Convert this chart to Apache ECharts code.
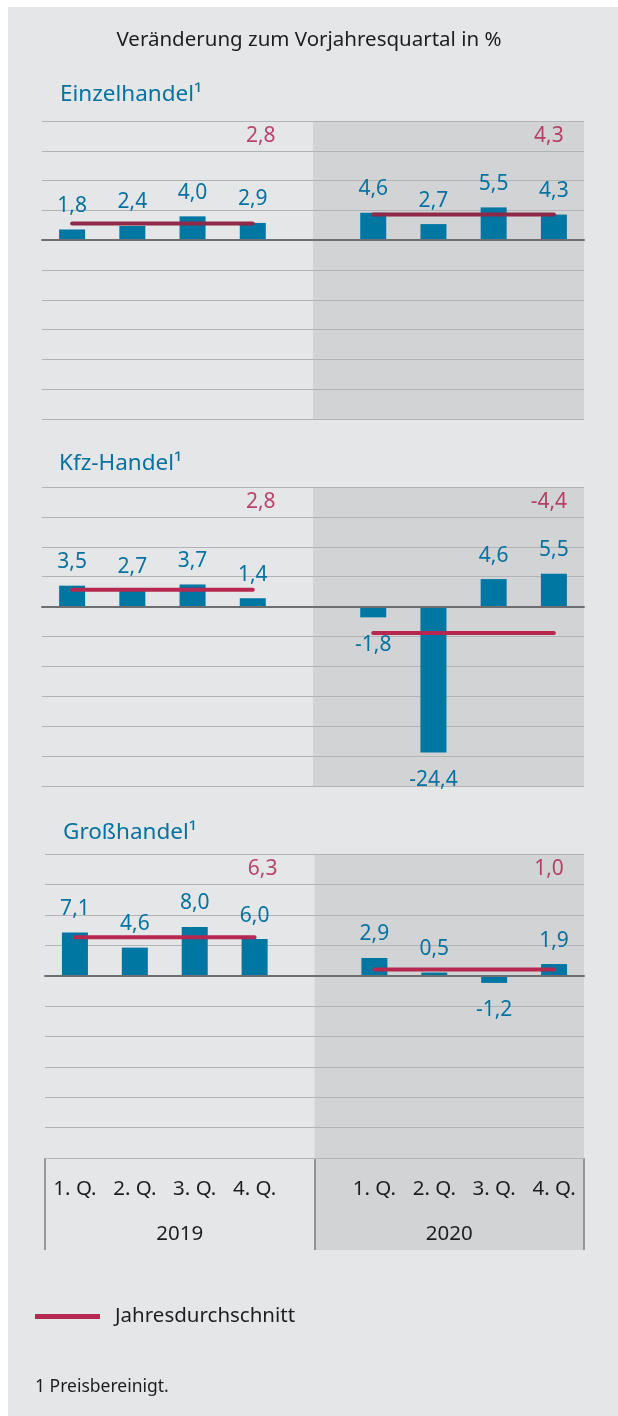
<!DOCTYPE html>
<html>
<head>
<meta charset="utf-8">
<script src="https://cdn.jsdelivr.net/npm/echarts@6/dist/echarts.min.js"></script>
<style>
  html, body { margin: 0; padding: 0; background: #fff; }
  #chart { width: 618px; height: 1416px; }
</style>
</head>
<body>
<div id="chart"></div>
<script>
// Veränderung zum Vorjahresquartal in %
const quarterLabels = ['1. Q.', '2. Q.', '3. Q.', '4. Q.'];
const yearLabels = ['2019', '2020'];

const einzelhandel2019 = [1.8, 2.4, 4.0, 2.9];
const einzelhandel2020 = [4.6, 2.7, 5.5, 4.3];
const einzelhandelAvg = [2.8, 4.3];

const kfz2019 = [3.5, 2.7, 3.7, 1.4];
const kfz2020 = [-1.8, -24.4, 4.6, 5.5];
const kfzAvg = [2.8, -4.4];

const gross2019 = [7.1, 4.6, 8.0, 6.0];
const gross2020 = [2.9, 0.5, -1.2, 1.9];
const grossAvg = [6.3, 1.0];

const FONT = 'Noto Sans';
const BLUE = '#0076a3';
const TEXT_BLUE = '#06729f';
const RED = '#b6284f';
const RED_TEXT = '#ad1d47';
const SHADE = '#d2d3d5';
const GRIDLINE = '#b2b3b6';

// 9 Slots: 4 Quartale, Lücke, 4 Quartale
const slots = quarterLabels.concat([''], quarterLabels);

const panels = [
  {title: 'Einzelhandel¹', a: einzelhandel2019, b: einzelhandel2020, avg: einzelhandelAvg, lineColor: '#8f2947',
   grid: {left: 42, right: 34, top: 121, height: 298}, titleLeft: 60, titleTop: 83},
  {title: 'Kfz-Handel¹', a: kfz2019, b: kfz2020, avg: kfzAvg, lineColor: RED,
   grid: {left: 42, right: 34, top: 487, height: 299}, titleLeft: 59, titleTop: 452},
  {title: 'Großhandel¹', a: gross2019, b: gross2020, avg: grossAvg, lineColor: RED,
   grid: {left: 45, right: 34, top: 854, height: 304}, titleLeft: 63, titleTop: 821}
];

function fmt(v){
  return v.toFixed(1).replace('.', ',');
}

function barData(a, b){
  return a.concat([null], b).map(function(v){
    if (v === null) return '-';
    return {
      value: v,
      label: {position: v < 0 ? 'bottom' : 'top', distance: v < 0 ? 17 : 13}
    };
  });
}

function avgData(avg){
  const d = [];
  for (let i = 0; i < 4; i++) d.push(avg[0]);
  d.push('-');
  for (let i = 0; i < 4; i++) d.push(avg[1]);
  return d;
}

const grids = [];
const xAxes = [];
const yAxes = [];
const series = [];
const titles = [{
  text: 'Veränderung zum Vorjahresquartal in %',
  left: 'center', top: 30, padding: 0,
  textStyle: {fontSize: 20.5, fontWeight: 'normal', color: '#1e1e1e', fontFamily: FONT}
}];

panels.forEach(function(p, i){
  grids.push(p.grid);
  titles.push({
    text: p.title, left: p.titleLeft, top: p.titleTop, padding: 0,
    textStyle: {fontSize: 22.5, fontWeight: 'normal', color: TEXT_BLUE, fontFamily: FONT}
  });
  // Kategorieachse für Balken + Nulllinie
  xAxes.push({
    type: 'category', gridIndex: i, data: slots, position: 'bottom', boundaryGap: true,
    axisLine: {show: true, onZero: true, lineStyle: {color: '#6d6e70', width: 2}},
    axisTick: {show: false}, axisLabel: {show: false}, splitLine: {show: false}, z: 3
  });
  // Hilfsachse für die Schattierung 2020
  xAxes.push({
    type: 'value', gridIndex: i, min: 0, max: 9, interval: 4.5, position: 'top',
    axisLine: {show: false}, axisTick: {show: false}, axisLabel: {show: false},
    splitLine: {show: false},
    splitArea: {show: true, areaStyle: {color: ['rgba(0,0,0,0)', SHADE]}}
  });
  yAxes.push({
    type: 'value', gridIndex: i, min: -30, max: 20, interval: 5,
    axisLine: {show: false}, axisTick: {show: false}, axisLabel: {show: false},
    splitLine: {show: true, lineStyle: {color: GRIDLINE, width: 1.2}}, z: 1
  });

  series.push({
    type: 'bar', xAxisIndex: i * 2, yAxisIndex: i, barWidth: 26,
    data: barData(p.a, p.b),
    itemStyle: {color: BLUE},
    label: {
      show: true, fontSize: 21, color: TEXT_BLUE, fontFamily: FONT,
      formatter: function(params){ return fmt(params.value); }
    },
    z: 2
  });
  series.push({
    type: 'line', name: 'Jahresdurchschnitt', xAxisIndex: i * 2, yAxisIndex: i,
    data: avgData(p.avg), symbol: 'none', connectNulls: false,
    lineStyle: {width: 4, color: p.lineColor, cap: 'round'},
    itemStyle: {color: p.lineColor}, z: 4
  });
  series.push({
    type: 'scatter', xAxisIndex: i * 2, yAxisIndex: i, symbolSize: 0,
    data: [
      {name: fmt(p.avg[0]), value: [3, 17.5], label: {offset: [8, 0]}},
      {name: fmt(p.avg[1]), value: [8, 17.5], label: {offset: [-5, 0]}}
    ],
    label: {show: true, position: 'inside', formatter: '{b}', fontSize: 21, color: RED_TEXT, fontFamily: FONT},
    z: 5
  });
});

// Beschriftungskasten unter Großhandel
grids.push({left: 45, right: 34, top: 1158, height: 92});
xAxes.push({
  type: 'category', gridIndex: 3, data: slots, position: 'top', boundaryGap: true,
  axisLine: {show: false}, axisTick: {show: false},
  axisLabel: {show: true, inside: true, margin: 21, interval: 0, fontSize: 20.5, color: '#1e1e1e', fontFamily: FONT}
});
xAxes.push({
  type: 'category', gridIndex: 3, data: yearLabels, position: 'bottom', boundaryGap: true,
  axisLine: {show: false}, axisTick: {show: false},
  axisLabel: {show: true, inside: true, margin: 5, fontSize: 20.5, color: '#1e1e1e', fontFamily: FONT}
});
xAxes.push({
  type: 'value', gridIndex: 3, min: 0, max: 9, interval: 4.5, position: 'top',
  axisLine: {show: false}, axisTick: {show: false}, axisLabel: {show: false},
  splitLine: {show: true, lineStyle: {color: '#7b7c7e', width: 1.5}},
  splitArea: {show: true, areaStyle: {color: ['rgba(0,0,0,0)', SHADE]}}
});
yAxes.push({type: 'value', gridIndex: 3, min: 0, max: 1, show: false});

titles.push({
  text: '1 Preisbereinigt.', left: 35, top: 1378, padding: 0,
  textStyle: {fontSize: 17.5, fontWeight: 'normal', color: '#1e1e1e', fontFamily: FONT}
});

const chart = echarts.init(document.getElementById('chart'), null, {renderer: 'canvas'});
chart.setOption({
  backgroundColor: '#fff',
  animation: false,
  textStyle: {fontFamily: FONT},
  graphic: [{
    type: 'rect', silent: true, z: -10,
    shape: {x: 8, y: 7, width: 610, height: 1409},
    style: {fill: '#e5e6e8'}
  }],
  title: titles,
  legend: {
    data: [{name: 'Jahresdurchschnitt', itemStyle: {color: RED}}],
    left: 35, top: 1306, padding: 0, icon: 'rect', itemWidth: 65, itemHeight: 5,
    selectedMode: false,
    textStyle: {fontSize: 20.5, color: '#1e1e1e', fontFamily: FONT, padding: [0, 0, 0, 10]}
  },
  grid: grids,
  xAxis: xAxes,
  yAxis: yAxes,
  series: series
});
</script>
</body>
</html>
